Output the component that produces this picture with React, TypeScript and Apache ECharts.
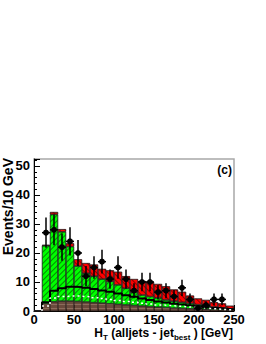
import React, { useEffect, useRef } from "react";
import * as echarts from "echarts";

// Bin categories (10 GeV bins, 0-250 GeV)
const binLabels = [
  "0-10", "10-20", "20-30", "30-40", "40-50", "50-60", "60-70", "70-80", "80-90", "90-100",
  "100-110", "110-120", "120-130", "130-140", "140-150", "150-160", "160-170", "170-180",
  "180-190", "190-200", "200-210", "210-220", "220-230", "230-240", "240-250",
];
const binLowEdges = [0, 10, 20, 30, 40, 50, 60, 70, 80, 90, 100, 110, 120, 130, 140, 150, 160, 170, 180, 190, 200, 210, 220, 230, 240];
const binUpperEdge = 250;

// Stacked backgrounds (cumulative tops)
const brownTop = [0, 2.5, 3.2, 3.4, 3.4, 3.3, 3.1, 2.9, 2.7, 2.5, 2.3, 2.1, 1.9, 1.7, 1.5, 1.3, 1.2, 1.0, 0.9, 0.8, 0.7, 0.6, 0.5, 0.4, 0.3];
const greenTop = [0, 22.5, 33.3, 27.3, 22.2, 15.5, 13.0, 12.0, 11.0, 10.2, 9.0, 7.8, 6.5, 5.5, 5.0, 4.5, 3.8, 3.4, 3.0, 2.6, 2.2, 1.8, 1.4, 1.1, 0.7];
const redTop = [0, 22.8, 34.1, 28.2, 23.3, 17.8, 16.5, 16.0, 14.5, 14.0, 13.5, 12.0, 11.0, 10.3, 10.0, 9.3, 8.5, 7.4, 6.6, 5.3, 4.3, 3.8, 3.0, 2.6, 1.8];

// Overlaid outline histograms
const blackLine = [0, 3.0, 7.0, 7.8, 8.4, 8.3, 8.0, 7.6, 7.1, 6.6, 6.0, 5.4, 4.9, 4.3, 3.8, 3.3, 2.9, 2.5, 2.2, 1.9, 1.6, 1.3, 1.0, 0.8, 0.6];
const whiteDashed = [0, 1.7, 4.5, 5.0, 5.2, 5.1, 4.9, 4.6, 4.3, 4.0, 3.6, 3.3, 3.0, 2.7, 2.4, 2.1, 1.9, 1.7, 1.5, 1.3, 1.1, 0.9, 0.7, 0.5, 0.4];

// Data points
const dataBins = [1, 2, 3, 4, 5, 6, 7, 8, 9, 10, 11, 12, 13, 14, 15, 16, 17, 18, 19, 20, 21, 22, 23];
const dataValues = [27, 28, 22, 24, 20, 12, 15, 17, 11, 15, 11, 7, 10, 10, 6.5, 7, 5, 8, 4, 1, 2, 4, 4];
const dataErrors = [5.2, 5.3, 4.7, 4.9, 4.5, 3.5, 3.9, 4.1, 3.3, 3.9, 3.3, 2.6, 3.2, 3.2, 2.5, 2.6, 2.2, 2.8, 2.0, 1.0, 1.4, 2.0, 2.0];

const yTickMax = 52.4;
const xTicks = [0, 250, 50];

const FONT = "Liberation Sans, Arial, Helvetica, sans-serif";

function stepPoints(vals: number[]) {
  const pts: number[][] = [[binLowEdges[1], 0]];
  for (let i = 1; i < vals.length; i++) pts.push([binLowEdges[i], vals[i]]);
  pts.push([binUpperEdge, vals[vals.length - 1]]);
  return pts;
}

export default function App() {
  const ref = useRef<HTMLDivElement>(null);
  useEffect(() => {
    if (!ref.current) return;
    const chart = echarts.init(ref.current, null, { renderer: "svg" });
    const brownVals = brownTop;
    const greenVals = greenTop.map((v, i) => +(v - brownTop[i]).toFixed(2));
    const redVals = redTop.map((v, i) => +(v - greenTop[i]).toFixed(2));

    const option: any = {
      animation: false,
      grid: {
        left: 34, right: 32, top: 159, bottom: 33,
        show: true, borderColor: "#a8a8a8", borderWidth: 1.5, backgroundColor: "transparent",
      },
      xAxis: [
        {
          type: "category", data: binLabels, show: false, boundaryGap: true,
        },
        {
          type: "value", min: xTicks[0], max: xTicks[1], interval: xTicks[2], position: "bottom",
          axisLine: { show: true, lineStyle: { color: "#000", width: 1 } },
          axisTick: { show: true, inside: true, length: 6, lineStyle: { color: "#000" } },
          minorTick: { show: true, splitNumber: 5, length: 3, lineStyle: { color: "#000" } },
          splitLine: { show: false },
          axisLabel: { color: "#000", fontFamily: FONT, fontWeight: "bold", fontSize: 13, margin: 2 },
        },
      ],
      yAxis: {
        type: "value", min: 0, max: yTickMax, interval: 10,
        axisLine: { show: true, lineStyle: { color: "#000", width: 1 } },
        axisTick: { show: true, inside: true, length: 6, lineStyle: { color: "#000" } },
        minorTick: { show: true, splitNumber: 5, length: 3, lineStyle: { color: "#000" } },
        splitLine: { show: false },
        axisLabel: { color: "#000", fontFamily: FONT, fontWeight: "bold", fontSize: 13, margin: 4, showMaxLabel: false },
      },
      series: [
        {
          type: "bar", xAxisIndex: 0, stack: "bkg", data: brownVals, barCategoryGap: "0%",
          itemStyle: {
            color: "#6a4a3c", borderColor: "#2a1a14", borderWidth: 0.5,
            decal: { symbol: "rect", symbolSize: 1, dashArrayX: [1, 0], dashArrayY: [1, 3], rotation: 0, color: "rgba(200,170,150,0.35)" },
          },
        },
        {
          type: "bar", xAxisIndex: 0, stack: "bkg", data: greenVals, barCategoryGap: "0%",
          itemStyle: {
            color: "#00ff00", borderColor: "#1a1a1a", borderWidth: 0.5,
            decal: { symbol: "rect", symbolSize: 1, dashArrayX: [1, 0], dashArrayY: [1, 3], rotation: -Math.PI / 4, color: "#008a00" },
          },
        },
        {
          type: "bar", xAxisIndex: 0, stack: "bkg", data: redVals, barCategoryGap: "0%",
          itemStyle: {
            color: "#ff0000", borderColor: "#1a1a1a", borderWidth: 0.5,
            decal: { symbol: "rect", symbolSize: 1, dashArrayX: [1, 0], dashArrayY: [1, 3], rotation: Math.PI / 4, color: "#8a0000" },
          },
        },
        {
          type: "line", xAxisIndex: 1, step: "end", symbol: "none", data: stepPoints(blackLine),
          lineStyle: { color: "#000", width: 2 }, z: 5,
        },
        {
          type: "line", xAxisIndex: 1, step: "end", symbol: "none", data: stepPoints(whiteDashed),
          lineStyle: { color: "#fff", width: 1.5, type: [2, 3] }, z: 6,
        },
        {
          type: "custom", xAxisIndex: 0, z: 10,
          data: dataBins.map((b, i) => [b, dataValues[i], dataErrors[i]]),
          renderItem: (params: any, api: any) => {
            const x = api.value(0);
            const y = api.value(1);
            const e = api.value(2);
            const c = api.coord([x, y]);
            const t = api.coord([x, y + e]);
            const b = api.coord([x, Math.max(0, y - e)]);
            const w = api.size([1, 0])[0];
            const st = { stroke: "#000", lineWidth: 1.5 };
            return {
              type: "group",
              children: [
                { type: "line", shape: { x1: c[0], y1: t[1], x2: c[0], y2: b[1] }, style: st },
                { type: "line", shape: { x1: c[0] - w / 2, y1: c[1], x2: c[0] + w / 2, y2: c[1] }, style: st },
                { type: "circle", shape: { cx: c[0], cy: c[1], r: 3 }, style: { fill: "#000" } },
              ],
            };
          },
        },
      ],
      graphic: [
        {
          type: "text", x: 232, y: 170,
          style: { text: "(c)", fill: "#000", font: `bold 12px ${FONT}`, align: "right", verticalAlign: "middle" },
        },
        {
          type: "text", x: 8, y: 158, rotation: Math.PI / 2,
          style: { text: "Events/10 GeV", fill: "#000", font: `bold 14px ${FONT}`, align: "right", verticalAlign: "middle" },
        },
        {
          type: "text", x: 233, y: 333,
          style: {
            text: "H{sub|T} (alljets - jet{sub|best} ) [GeV]",
            fill: "#000", font: `bold 12px ${FONT}`, align: "right", verticalAlign: "middle",
            rich: {
              sub: { fontSize: 8, fontWeight: "bold", fontFamily: FONT, fill: "#000", padding: [8, 0, 0, 0] },
            },
          },
        },
      ],
    };
    chart.setOption(option);
    return () => chart.dispose();
  }, []);
  return <div ref={ref} style={{ width: 266, height: 344, position: "absolute", left: 0, top: 0 }} />;
}
